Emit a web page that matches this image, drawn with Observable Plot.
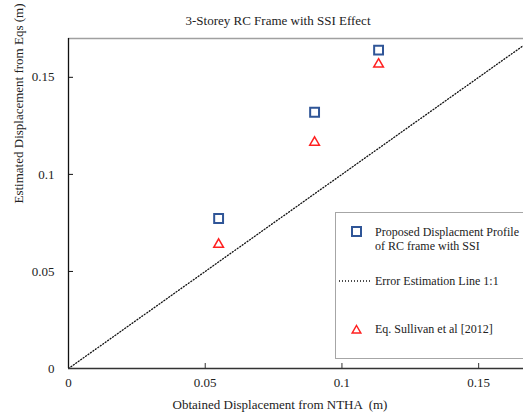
<!DOCTYPE html>
<html><head><meta charset="utf-8">
<script src="https://cdn.jsdelivr.net/npm/d3@7"></script>
<script src="https://cdn.jsdelivr.net/npm/@observablehq/plot@0.6"></script>
<style>
body{margin:0;background:#fff;font-family:"Liberation Serif","Times New Roman",serif;}
#wrap{position:relative;width:523px;height:419px;overflow:hidden;}
#legend{position:absolute;left:335px;top:212px;width:220px;height:145px;border:1px solid #a6a6a6;background:#fff;font-size:12px;color:#222;}
#legend .t{position:absolute;white-space:nowrap;line-height:14px;}
#legend svg{position:absolute;left:0;top:0;overflow:visible;}
</style>
</head><body><div id="wrap"></div>
<script>
const title = "3-Storey RC Frame with SSI Effect";
const xLabel = "Obtained Displacement from NTHA  (m)";
const yLabel = "Estimated Displacement from Eqs (m)";
const nthaX = [0.0549, 0.0900, 0.1134];
const proposedY = [0.0773, 0.1320, 0.1640];
const sullivanY = [0.0639, 0.1165, 0.1567];
const tickValues = [0, 0.05, 0.1, 0.15];
const lineVals = [0, 0.2];
const legendLabels = ["Proposed Displacment Profile", "of RC frame with SSI", "Error Estimation Line 1:1", "Eq. Sullivan et al [2012]"];

const blue = "#2f5597", red = "#ff2020";
const proposed = nthaX.map((x, i) => ({x, y: proposedY[i]}));
const sullivan = nthaX.map((x, i) => ({x, y: sullivanY[i]}));
const line = lineVals.map(v => ({x: v, y: v}));

const chart = Plot.plot({
  width: 523, height: 419,
  marginTop: 38, marginLeft: 68, marginRight: 0, marginBottom: 51,
  style: {fontFamily: '"Liberation Serif","Times New Roman",serif', fontSize: "13px", color: "#222", background: "#fff"},
  x: {domain: [0, 0.1664]},
  y: {domain: [0, 0.170]},
  marks: [
    Plot.line(line, {x: "x", y: "y", stroke: "#111", strokeWidth: 1.3, strokeDasharray: "1,2", clip: true}),
    Plot.ruleY([0.170], {stroke: "#a0a0a0", strokeWidth: 1.5}),
    Plot.ruleX([0], {stroke: "#111", strokeWidth: 1.3}),
    Plot.ruleY([0], {stroke: "#333", strokeWidth: 1.5}),
    Plot.axisX({ticks: tickValues, tickSize: 0, tickPadding: 9, tickFormat: d => String(d), label: null}),
    Plot.axisX({ticks: tickValues.slice(1), tickSize: -5, tickFormat: () => "", label: null, stroke: "#333"}),
    Plot.axisY({ticks: tickValues, tickSize: 0, tickPadding: 14, tickFormat: d => String(d), label: null}),
    Plot.axisY({ticks: tickValues.slice(1), tickSize: -5, tickFormat: () => "", label: null, stroke: "#111"}),
    Plot.dot(proposed, {x: "x", y: "y", symbol: "square", r: 5, stroke: blue, strokeWidth: 2, fill: "#fff"}),
    Plot.dot(sullivan, {x: "x", y: "y", symbol: "triangle", r: 3.6, stroke: red, strokeWidth: 1.5, fill: "#fff"}),
    Plot.text([title], {frameAnchor: "top", dx: -18, dy: -23, fontSize: 13}),
    Plot.text([xLabel], {frameAnchor: "bottom", dx: -16, dy: 40, fontSize: 13}),
    Plot.text([yLabel], {frameAnchor: "left", rotate: -90, dx: -50, dy: 0, fontSize: 13})
  ]
});
const wrap = document.getElementById("wrap");
wrap.appendChild(chart);

const lg = document.createElement("div");
lg.id = "legend";
lg.innerHTML = `
<svg width="220" height="145">
  <rect x="16" y="14" width="9" height="9" fill="#fff" stroke="${blue}" stroke-width="2"/>
  <line x1="3" x2="35" y1="68" y2="68" stroke="#111" stroke-width="1.3" stroke-dasharray="1,2"/>
  <path d="M20.5,112.5 L24.8,120 L16.2,120 Z" fill="#fff" stroke="${red}" stroke-width="1.5"/>
</svg>
<div class="t" style="left:39px;top:12px">${legendLabels[0]}</div>
<div class="t" style="left:39px;top:26px">${legendLabels[1]}</div>
<div class="t" style="left:39px;top:61px">${legendLabels[2]}</div>
<div class="t" style="left:39px;top:109px">${legendLabels[3]}</div>`;
wrap.appendChild(lg);
</script>
</body></html>
